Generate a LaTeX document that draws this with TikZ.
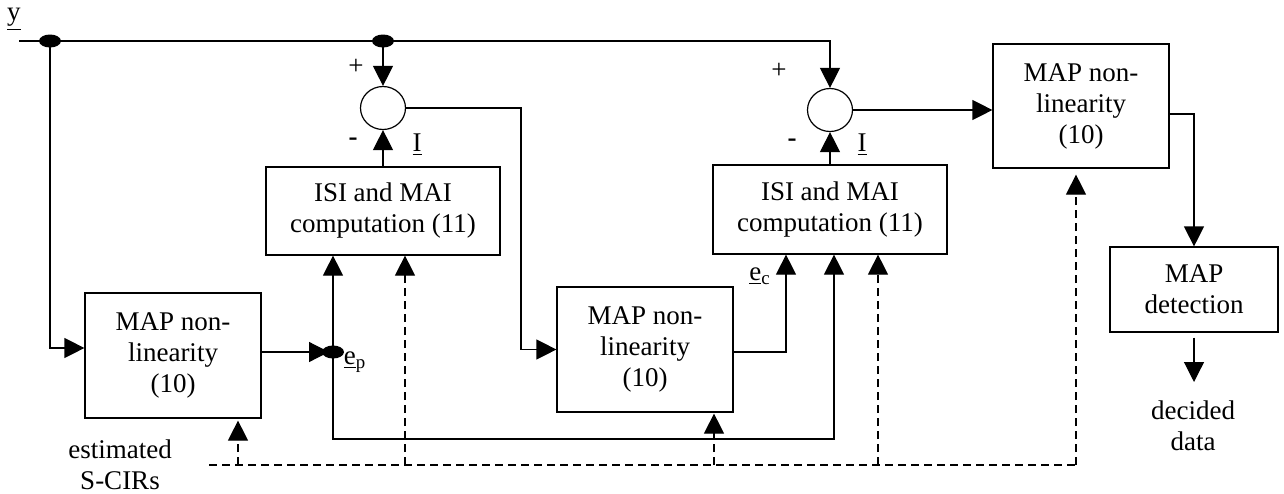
\documentclass[tikz,border=0pt]{standalone}
\usepackage{fontspec}
\setmainfont{Liberation Serif}
\usetikzlibrary{arrows.meta,shapes.geometric}
\begin{document}
\begin{tikzpicture}[x=0.5pt,y=-0.5pt, line width=0.6pt,
  every node/.style={font=\fontsize{13.5}{15.5}\selectfont},
  blk/.style={draw, rectangle, align=center, inner sep=0pt},
  sumc/.style={draw, ellipse, minimum width=22.5pt, minimum height=21.5pt, inner sep=0pt},
  jdot/.style={fill=black, ellipse, minimum width=11pt, minimum height=6.5pt, inner sep=0pt},
  arr/.style={-{Triangle[length=10pt,width=10pt]}},
  arrboth/.style={{Triangle[length=10pt,width=10pt]}-{Triangle[length=10pt,width=10pt]}},
  dsh/.style={dash pattern=on 4pt off 2.5pt},
  lbl/.style={inner sep=0pt, align=center}]
\useasboundingbox (0,0) rectangle (1284,493);

% blocks
\node[blk, minimum width=88pt, minimum height=62.5pt] (map1) at (173,355.5) {MAP non-\\linearity\\(10)};
\node[blk, minimum width=117pt, minimum height=44pt] (isi1) at (383,211) {ISI and MAI\\computation (11)};
\node[blk, minimum width=88pt, minimum height=62.5pt] (map2) at (645,349.5) {MAP non-\\linearity\\(10)};
\node[blk, minimum width=117pt, minimum height=44.5pt] (isi2) at (830,209.5) {ISI and MAI\\computation (11)};
\node[blk, minimum width=88pt, minimum height=62pt] (map3) at (1081,106) {MAP non-\\linearity\\(10)};
\node[blk, minimum width=84pt, minimum height=42.5pt] (det) at (1194,289.5) {MAP\\detection};
\node[sumc] (c1) at (383,108) {};
\node[sumc] (c2) at (830,110) {};

% junction dots
\node[jdot] (d1) at (50,41) {};
\node[jdot] (d2) at (383,41) {};

% coordinates
\coordinate (yin) at (19,41);
\coordinate (k1) at (521,108);
\coordinate (b1) at (333,439);
\coordinate (b2) at (834,439);
\coordinate (k2) at (786,352);
\coordinate (decarr) at (1194,382);
\coordinate (s0) at (209,465);
\coordinate (s1) at (238,465);
\coordinate (s2) at (405,465);
\coordinate (s3) at (714,465);
\coordinate (s4) at (878,465);
\coordinate (s5) at (1076,465);

% solid connectors
\draw[arr] (yin) -| (c2.north);
\draw[arr] (d1.center) |- ([yshift=3.75pt]map1.west);
\draw[arr] (d2.center) -- (c1.north);
\draw[arr] (isi1.north) -- (c1.south);
\draw[arr] (isi2.north) -- (c2.south);
\draw[arr] (c1.east) -- (k1) |- (map2.west);
\draw[arrboth] (b2 |- isi2.south) -- (b2) -- (b1) -- (b1 |- isi1.south);
\node[jdot] (ep) at (333,352) {};
\draw[arr, shorten >=2pt] ([yshift=1.75pt]map1.east) -- (ep.center);
\draw[arr] ([yshift=-1.25pt]map2.east) -- (k2) -- (k2 |- isi2.south);
\draw[arr] (c2.east) -- (c2.east -| map3.west);
\draw[arr] ([yshift=-4pt]map3.east) -| (det.north);
\draw[arr] ([yshift=-2.5pt]det.south) -- (decarr);

% dashed connectors
\draw[dsh] (s0) -- (s5);
\draw[dsh, arr, shorten >=1pt] (s1) -- (s1 |- map1.south);
\draw[dsh, arr] (s2) -- (s2 |- isi1.south);
\draw[dsh, arr, shorten >=0.5pt] (s3) -- (s3 |- map2.south);
\draw[dsh, arr] (s4) -- (s4 |- isi2.south);
\draw[dsh, arr, shorten >=3pt] (s5) -- (s5 |- map3.south);

% labels
\node[lbl] (yl) at (14,19) {\underline{y}};
\node[lbl] (plus1) at (356,67) {+};
\node[lbl] (plus2) at (779,71) {+};
\node[lbl] (min1) at (353,142) {\textbf{-}};
\node[lbl] (min2) at (792,143) {\textbf{-}};
\node[lbl] (i1) at (417,145) {\underline{I}};
\node[lbl] (i2) at (862,145) {\underline{I}};
\node[lbl] (epl) at (355,362) {\underline{e}\textsubscript{p}};
\node[lbl] (ecl) at (760,276) {\underline{e}\textsubscript{c}};
\node[lbl] (est) at (120,465) {estimated\\S-CIRs};
\node[lbl] (dec) at (1193,426) {decided\\data};
\end{tikzpicture}
\end{document}
